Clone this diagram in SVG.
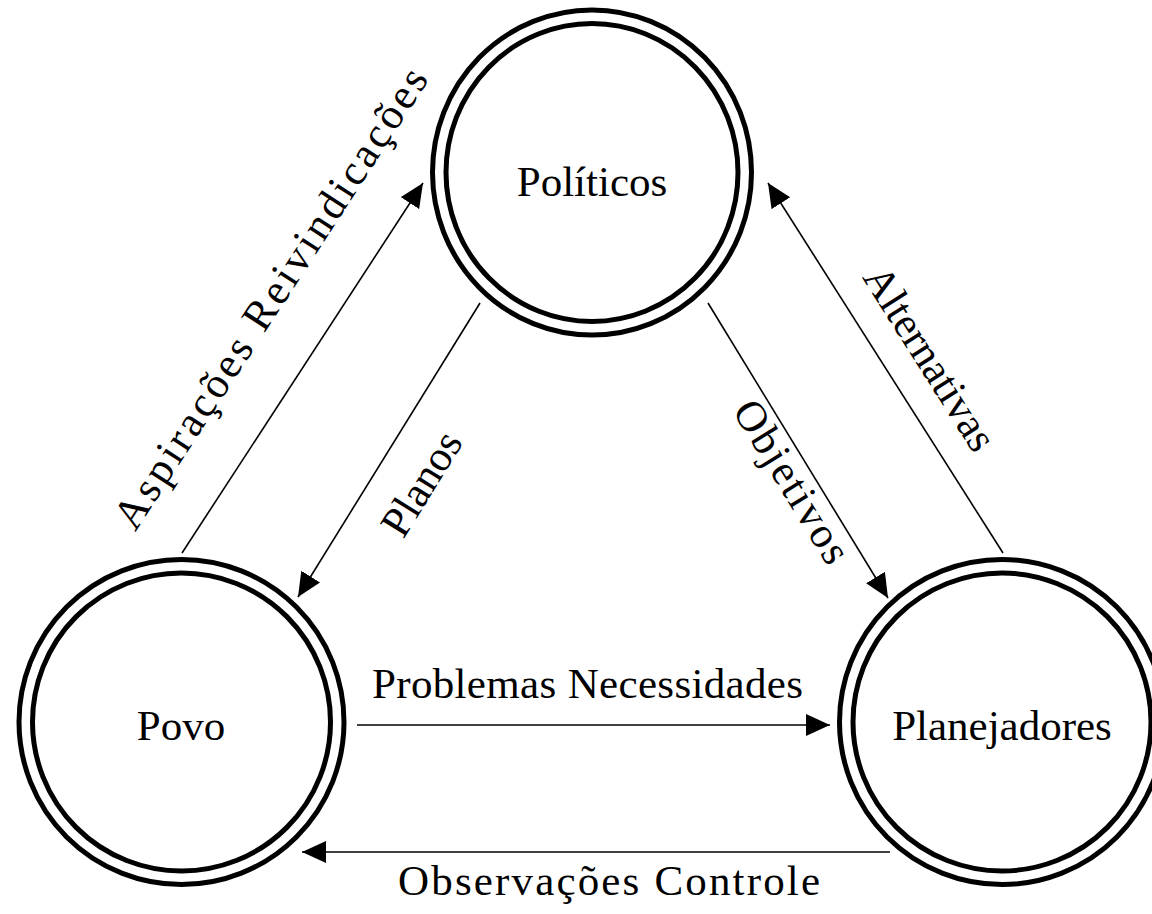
<svg xmlns="http://www.w3.org/2000/svg" width="1152" height="914" viewBox="0 0 1152 914">
<style>
  .ring { fill: none; stroke: #000; stroke-width: 5; }
  .lbl { font-family: "Liberation Serif", "Times New Roman", serif; font-size: 43px; fill: #000; }
  .conn { stroke: #000; stroke-width: 1.6; fill: none; marker-end: url(#arrow); }
</style>
<defs>
  <marker id="arrow" markerWidth="25" markerHeight="23" refX="24" refY="11" orient="auto" markerUnits="userSpaceOnUse">
    <path d="M0,0 L24,11 L0,22 z" fill="#000"/>
  </marker>
</defs>
<rect x="0" y="0" width="1152" height="914" fill="#fff"/>

<g id="connectors">
  <line class="conn" x1="182" y1="553" x2="423" y2="183"/>
  <line class="conn" x1="480" y1="303" x2="298" y2="597"/>
  <line class="conn" x1="708" y1="303" x2="888" y2="598"/>
  <line class="conn" x1="1003" y1="553" x2="768" y2="183"/>
  <line class="conn" x1="357" y1="725" x2="830" y2="725"/>
  <line class="conn" x1="890" y1="852" x2="302" y2="852"/>
</g>

<g id="node-politicos">
  <ellipse class="ring" cx="592" cy="172.5" rx="159.5" ry="162.5"/>
  <ellipse class="ring" cx="592" cy="172.5" rx="146" ry="149"/>
  <text class="lbl" x="592" y="196" text-anchor="middle">Políticos</text>
</g>

<g id="node-povo">
  <circle class="ring" cx="181.5" cy="722" r="162.5"/>
  <circle class="ring" cx="181.5" cy="722" r="149"/>
  <text class="lbl" x="181" y="740" text-anchor="middle">Povo</text>
</g>

<g id="node-planejadores">
  <circle class="ring" cx="1002" cy="722" r="162.5"/>
  <circle class="ring" cx="1002" cy="722" r="149"/>
  <text class="lbl" x="1002" y="740" text-anchor="middle">Planejadores</text>
</g>

<g id="labels">
  <text class="lbl" transform="translate(282.4,305.7) rotate(-57)" text-anchor="middle" textLength="540" lengthAdjust="spacing">Aspirações Reivindicações</text>
  <text class="lbl" transform="translate(433.5,491) rotate(-58.2)" text-anchor="middle">Planos</text>
  <text class="lbl" transform="translate(780,489) rotate(58.4)" text-anchor="middle" textLength="184" lengthAdjust="spacing">Objetivos</text>
  <text class="lbl" transform="translate(918,366) rotate(57.6)" text-anchor="middle">Alternativas</text>
  <text class="lbl" x="372" y="698" textLength="431" lengthAdjust="spacing">Problemas Necessidades</text>
  <text class="lbl" x="398" y="895" textLength="422" lengthAdjust="spacing">Observações Controle</text>
</g>
</svg>
